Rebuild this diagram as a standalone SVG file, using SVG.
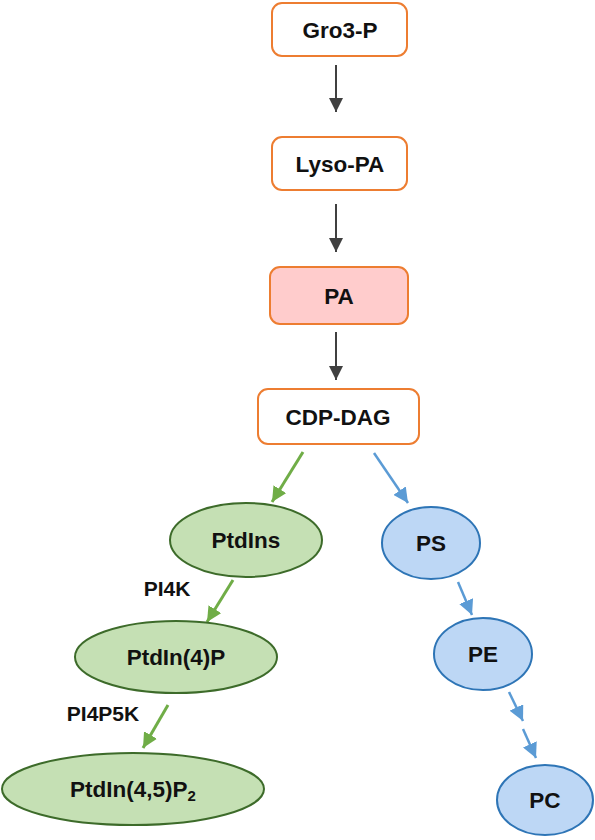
<svg xmlns="http://www.w3.org/2000/svg" width="595" height="840" viewBox="0 0 595 840">
<defs>
<marker id="ak" viewBox="0 0 10 10" refX="10" refY="5" markerWidth="7" markerHeight="7" orient="auto" markerUnits="strokeWidth"><path d="M0,0 L10,5 L0,10 z" fill="#404040"/></marker>
<marker id="ag" viewBox="0 0 10 10" refX="10" refY="5" markerWidth="5" markerHeight="5" orient="auto" markerUnits="strokeWidth"><path d="M0,0 L10,5 L0,10 z" fill="#70AD47"/></marker>
<marker id="ab" viewBox="0 0 10 10" refX="10" refY="5" markerWidth="6" markerHeight="6" orient="auto" markerUnits="strokeWidth"><path d="M0,0 L10,5 L0,10 z" fill="#5B9BD5"/></marker>
</defs>
<style>
text{font-family:"Liberation Sans",Arial,sans-serif;font-weight:bold;font-size:22.5px;fill:#111;text-anchor:middle;dominant-baseline:central}
.box{fill:#fff;stroke:#ED7D31;stroke-width:2}
.pa{fill:#FFCCCC;stroke:#ED7D31;stroke-width:2}
.gn{fill:#C5E0B4;stroke:#3D6B2A;stroke-width:2}
.bl{fill:#BDD7F5;stroke:#2E75B6;stroke-width:2}
.k{stroke:#404040;stroke-width:2;fill:none;marker-end:url(#ak)}
.g{stroke:#70AD47;stroke-width:3;fill:none;marker-end:url(#ag)}
.b{stroke:#5B9BD5;stroke-width:2.5;fill:none;marker-end:url(#ab)}
.lbl{font-size:21px}
</style>
<g id="connectors">
<line class="k" x1="336" y1="65" x2="336" y2="112"/>
<line class="k" x1="336" y1="204" x2="336" y2="252"/>
<line class="k" x1="336" y1="332" x2="336" y2="380"/>
<line class="g" x1="303" y1="452" x2="272" y2="502"/>
<line class="b" x1="374" y1="453" x2="408" y2="503"/>
<line class="g" x1="233" y1="580" x2="207" y2="622"/>
<line class="g" x1="168" y1="705" x2="143" y2="748"/>
<line class="b" x1="458" y1="582" x2="472" y2="615"/>
<line class="b" x1="509" y1="692" x2="523" y2="721"/>
<line class="b" x1="523" y1="729" x2="536" y2="758"/>
</g>
<g id="n-gro3p"><rect class="box" x="272" y="3" width="135" height="53" rx="10"/><text x="340" y="30">Gro3-P</text></g>
<g id="n-lysopa"><rect class="box" x="272" y="137" width="135" height="53" rx="10"/><text x="340" y="164">Lyso-PA</text></g>
<g id="n-pa"><rect class="pa" x="270" y="267" width="138" height="57" rx="10"/><text x="339" y="296">PA</text></g>
<g id="n-cdpdag"><rect class="box" x="258" y="389" width="161" height="55" rx="10"/><text x="338" y="417">CDP-DAG</text></g>
<g id="n-ptdins"><ellipse class="gn" cx="246" cy="540" rx="76" ry="37"/><text x="246" y="540">PtdIns</text></g>
<g id="n-ptdin4p"><ellipse class="gn" cx="176" cy="657" rx="101" ry="36"/><text x="176" y="657">PtdIn(4)P</text></g>
<g id="n-ptdin45p2"><ellipse class="gn" cx="133" cy="789" rx="131" ry="36"/><text x="133" y="789">PtdIn(4,5)P<tspan font-size="15" dy="6">2</tspan></text></g>
<g id="n-ps"><ellipse class="bl" cx="431" cy="543" rx="49" ry="36"/><text x="431" y="543">PS</text></g>
<g id="n-pe"><ellipse class="bl" cx="483" cy="654" rx="49" ry="36"/><text x="483" y="654">PE</text></g>
<g id="n-pc"><ellipse class="bl" cx="545" cy="800" rx="48" ry="35"/><text x="545" y="800">PC</text></g>
<g id="labels">
<text class="lbl" x="167" y="588">PI4K</text>
<text class="lbl" x="103" y="713">PI4P5K</text>
</g>
</svg>
